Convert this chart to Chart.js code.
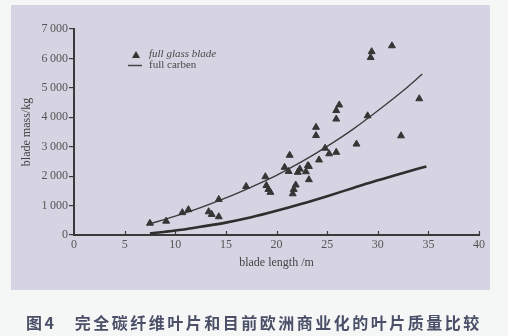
<!DOCTYPE html>
<html>
<head>
<meta charset="utf-8">
<script src="https://cdn.jsdelivr.net/npm/chart.js@4/dist/chart.umd.min.js"></script>
<style>
  html, body { margin: 0; padding: 0; background: #f4f7f6; }
  #wrap { position: relative; width: 508px; height: 336px; }
  #panel { position: absolute; left: 11px; top: 5px; width: 479px; height: 285px; background: #d6d4e3; }
  canvas { position: absolute; left: 0; top: 0; }
  #caption {
    position: absolute; left: 26px; top: 310px; white-space: nowrap;
    font-family: "Noto Sans CJK SC", sans-serif; font-size: 16px; font-weight: bold;
    color: #4b5068; letter-spacing: 2.5px;
  }
</style>
</head>
<body>
<div id="wrap">
  <div id="panel"></div>
  <canvas id="myChart" width="508" height="336"></canvas>
  <div id="caption">图4&nbsp;&nbsp;&nbsp;完全碳纤维叶片和目前欧洲商业化的叶片质量比较</div>
</div>
<script>
// 全玻璃纤维叶片 (散点)
const glassLength = [7.5, 9.1, 10.7, 11.3, 13.3, 13.6, 14.3, 14.3, 17.0, 18.9, 19.0, 19.2, 19.4,
  20.8, 21.2, 21.3, 21.6, 21.7, 21.9, 22.1, 22.3, 22.9, 23.1, 23.2, 23.2, 23.9, 23.9, 24.2,
  24.8, 25.2, 25.9, 25.9, 25.9, 26.2, 27.9, 29.0, 29.3, 29.4, 31.4, 32.3, 34.1];
const glassMass = [400, 470, 760, 860, 790, 700, 1210, 620, 1650, 1980, 1680, 1550, 1450,
  2300, 2160, 2710, 1400, 1550, 1700, 2130, 2240, 2150, 2360, 2330, 1880, 3660, 3380, 2550,
  2950, 2760, 2810, 3940, 4230, 4420, 3090, 4050, 6030, 6230, 6430, 3370, 4630];

// 拟合曲线 (玻璃纤维)
const fitLength = [7.4, 10, 12.5, 15, 17.5, 20, 22.5, 25, 27.5, 30, 32.5, 34.4];
const fitMass = [370, 640, 930, 1260, 1630, 2030, 2490, 3010, 3580, 4220, 4900, 5470];

// 全碳纤维叶片
const carbonLength = [7.5, 10, 12.5, 15, 17.5, 20, 22.5, 25, 27.5, 30, 32.5, 34.8];
const carbonMass = [50, 150, 280, 420, 600, 820, 1060, 1320, 1590, 1860, 2110, 2330];

const xTicks = [0, 5, 10, 15, 20, 25, 30, 35, 40];
const yTicks = [0, 1000, 2000, 3000, 4000, 5000, 6000, 7000];

const serif = '"Liberation Serif", "DejaVu Serif", serif';

const toPoints = (xs, ys) => xs.map((x, i) => ({ x: x, y: ys[i] }));

// marcas del eje x hacia adentro + leyenda
const extras = {
  id: 'extras',
  afterDraw(chart) {
    const ctx = chart.ctx;
    const xs = chart.scales.x;
    const ys = chart.scales.y;
    ctx.save();
    ctx.strokeStyle = '#3a3a3a';
    ctx.lineWidth = 1.2;
    xTicks.forEach(t => {
      if (t === 0) return;
      const px = Math.round(xs.getPixelForValue(t)) + 0.5;
      ctx.beginPath();
      ctx.moveTo(px, ys.bottom);
      ctx.lineTo(px, ys.bottom - 4);
      ctx.stroke();
    });
    // leyenda
    ctx.fillStyle = '#333';
    ctx.beginPath();
    ctx.moveTo(136, 51);
    ctx.lineTo(140, 58);
    ctx.lineTo(132, 58);
    ctx.closePath();
    ctx.fill();
    ctx.strokeStyle = '#444';
    ctx.lineWidth = 1.5;
    ctx.beginPath();
    ctx.moveTo(128, 65.5);
    ctx.lineTo(142, 65.5);
    ctx.stroke();
    ctx.fillStyle = '#4a4a4a';
    ctx.textBaseline = 'middle';
    ctx.font = 'italic 11px ' + serif;
    ctx.fillText('full glass blade', 149, 54);
    ctx.font = '11px ' + serif;
    ctx.fillText('full carben', 149, 65);
    ctx.restore();
  }
};

new Chart(document.getElementById('myChart'), {
  type: 'scatter',
  data: {
    datasets: [
      {
        label: 'full glass blade',
        data: toPoints(glassLength, glassMass),
        pointStyle: 'triangle',
        pointRadius: 4,
        backgroundColor: '#353535',
        borderColor: '#353535',
        borderWidth: 1
      },
      {
        label: 'fit',
        type: 'line',
        data: toPoints(fitLength, fitMass),
        borderColor: '#3c3c3c',
        borderWidth: 1.4,
        pointRadius: 0,
        cubicInterpolationMode: 'monotone',
        fill: false
      },
      {
        label: 'full carben',
        type: 'line',
        data: toPoints(carbonLength, carbonMass),
        borderColor: '#2e2e2e',
        borderWidth: 2.6,
        pointRadius: 0,
        cubicInterpolationMode: 'monotone',
        fill: false
      }
    ]
  },
  options: {
    responsive: false,
    animation: false,
    layout: { padding: { left: 16, top: 29, right: 29, bottom: 62 } },
    plugins: { legend: { display: false }, tooltip: { enabled: false } },
    scales: {
      x: {
        type: 'linear',
        min: 0, max: 40,
        afterBuildTicks: s => { s.ticks = xTicks.map(v => ({ value: v })); },
        afterFit: s => { s.height = 39; },
        border: { display: true, color: '#3a3a3a', width: 2 },
        grid: { display: false, drawTicks: false, tickLength: 0 },
        ticks: { color: '#555', font: { family: serif, size: 12 }, padding: 3, maxRotation: 0 },
        title: { display: true, text: 'blade length /m', color: '#444', font: { family: serif, size: 12 }, padding: { top: 2 } }
      },
      y: {
        type: 'linear',
        min: 0, max: 7000,
        afterBuildTicks: s => { s.ticks = yTicks.map(v => ({ value: v })); },
        afterFit: s => { s.width = 58; },
        border: { display: true, color: '#3a3a3a', width: 2 },
        grid: { drawOnChartArea: false, drawTicks: true, tickLength: 5, color: '#3a3a3a', lineWidth: 1.2 },
        ticks: {
          color: '#555', font: { family: serif, size: 12 }, padding: 1,
          callback: v => v === 0 ? '0' : (v / 1000) + '\u2009000'
        },
        title: { display: true, text: 'blade mass/kg', color: '#444', font: { family: serif, size: 12 }, padding: { bottom: 2 } }
      }
    }
  },
  plugins: [extras]
});
</script>
</body>
</html>
